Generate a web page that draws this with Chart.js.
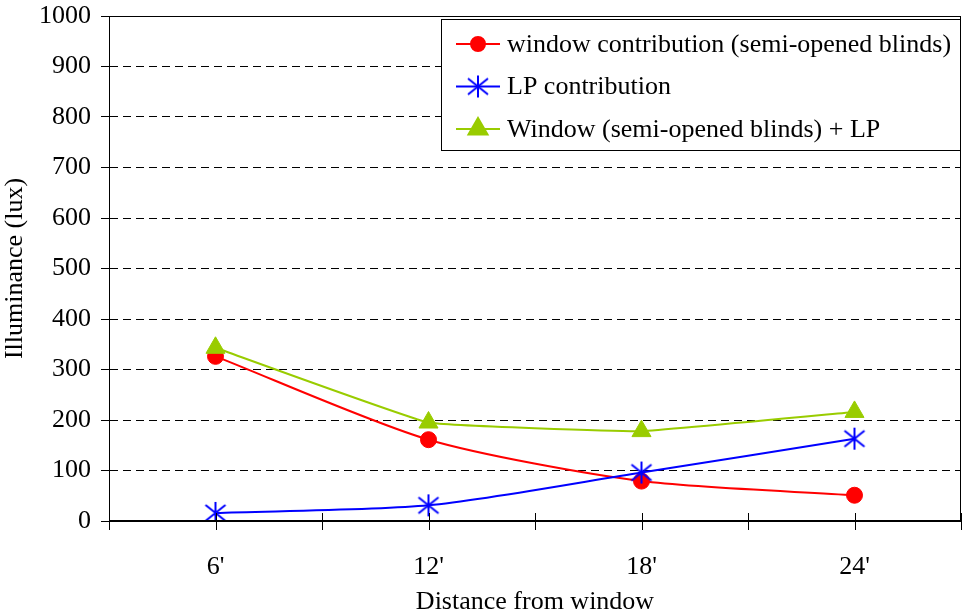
<!DOCTYPE html>
<html>
<head>
<meta charset="utf-8">
<script src="https://cdn.jsdelivr.net/npm/chart.js@4/dist/chart.umd.min.js"></script>
<style>
  html, body { margin: 0; padding: 0; background: #fff; }
  #wrap { width: 964px; height: 613px; }
</style>
</head>
<body>
<div id="wrap"><canvas id="myChart" width="964" height="613"></canvas></div>
<script>
'use strict';

// data
var categories = ["6'", "12'", "18'", "24'"];
var windowLux = [326, 161, 79, 51];
var lpLux = [16, 31, 96, 163];
var totalLux = [343, 195, 178, 216];
var seriesNames = [
  'window contribution (semi-opened blinds)',
  'LP contribution',
  'Window (semi-opened blinds) + LP'
];
var yTicks = { min: 0, max: 1000, step: 100 };

var FONT = "'Liberation Serif', 'Times New Roman', serif";
Chart.defaults.font.family = FONT;
Chart.defaults.font.size = 26;
Chart.defaults.color = '#000';

// asterisk marker: vertical bar + X
function makeStar(color) {
  var c = document.createElement('canvas');
  c.width = 24; c.height = 24;
  var g = c.getContext('2d');
  g.strokeStyle = color;
  g.lineWidth = 2;
  g.beginPath();
  g.moveTo(12, 1); g.lineTo(12, 23);
  g.moveTo(2, 4); g.lineTo(22, 20);
  g.moveTo(22, 4); g.lineTo(2, 20);
  g.stroke();
  return c;
}
var star = makeStar('#0000FF');

var styles = [
  { color: '#FF0000', point: 'circle', r: 8, lr: 7, t: 0.25 },
  { color: '#0000FF', point: star, r: 11, lr: 11, t: 0.25 },
  { color: '#99CC00', point: 'triangle', r: 11, lr: 11, t: 0.08 }
];

var frameAndLegend = {
  id: 'frameAndLegend',
  afterDatasetsDraw: function(chart) {
    var ctx = chart.ctx;
    var a = chart.chartArea;
    var x = chart.scales.x;
    ctx.save();
    // plot frame
    ctx.strokeStyle = '#000';
    ctx.lineWidth = 1;
    ctx.strokeRect(Math.round(a.left) + 0.5, Math.round(a.top) + 0.5, Math.round(a.right - a.left) - 1, Math.round(a.bottom - a.top));
    ctx.lineWidth = 2;
    ctx.beginPath();
    ctx.moveTo(a.left, a.bottom); ctx.lineTo(a.right, a.bottom);
    ctx.stroke();
    // x tick marks at centres and boundaries
    ctx.lineWidth = 1;
    ctx.beginPath();
    for (var i = -0.5; i <= categories.length - 0.5; i += 0.5) {
      var px = Math.round(x.getPixelForValue(i)) + 0.5;
      ctx.moveTo(px, a.bottom - 8);
      ctx.lineTo(px, a.bottom + 9);
    }
    ctx.stroke();

    // legend box
    var lx = a.right - 520, ly = a.top + 3, lw = 519, lh = 131;
    ctx.fillStyle = '#fff';
    ctx.fillRect(lx, ly, lw, lh);
    ctx.strokeStyle = '#000';
    ctx.lineWidth = 1;
    ctx.strokeRect(Math.round(lx) + 0.5, Math.round(ly) + 0.5, lw, lh);
    ctx.font = '26px ' + FONT;
    ctx.textBaseline = 'middle';
    ctx.textAlign = 'left';
    for (var k = 0; k < seriesNames.length; k++) {
      var s = styles[k];
      var cy = ly + 25 + k * 42.5;
      ctx.strokeStyle = s.color;
      ctx.lineWidth = 2;
      ctx.beginPath();
      ctx.moveTo(lx + 15, cy); ctx.lineTo(lx + 59, cy);
      ctx.stroke();
      ctx.fillStyle = s.color;
      Chart.helpers.drawPoint(ctx, { pointStyle: s.point, radius: s.lr, rotation: 0, borderWidth: 1 }, lx + 37, cy);
      ctx.fillStyle = '#000';
      ctx.fillText(seriesNames[k], lx + 66, cy + 1);
    }
    ctx.restore();
  }
};

function ds(label, data, s, order) {
  return {
    label: label,
    data: data,
    borderColor: s.color,
    backgroundColor: s.color,
    borderWidth: 2,
    pointStyle: s.point,
    pointRadius: s.r,
    pointHoverRadius: s.r,
    pointBorderWidth: 1,
    tension: s.t,
    order: order
  };
}

var ctx = document.getElementById('myChart').getContext('2d');

var chart = new Chart(ctx, {
  type: 'line',
  data: {
    labels: categories,
    datasets: [
      ds(seriesNames[0], windowLux, styles[0], 3),
      ds(seriesNames[1], lpLux, styles[1], 2),
      ds(seriesNames[2], totalLux, styles[2], 1)
    ]
  },
  options: {
    responsive: false,
    animation: false,
    layout: { autoPadding: false, padding: { top: 16, right: 3, left: 0, bottom: 0 } },
    plugins: { legend: { display: false }, tooltip: { enabled: false } },
    scales: {
      x: {
        offset: true,
        grid: { display: false, drawTicks: false },
        border: { display: false },
        ticks: { padding: 31, maxRotation: 0 },
        title: { display: true, text: 'Distance from window', padding: { top: 0, bottom: -5 } },
        afterFit: function(s) { s.height = 92; s.paddingLeft = 0; s.paddingRight = 0; }
      },
      y: {
        min: yTicks.min,
        max: yTicks.max,
        grid: { color: '#000', lineWidth: 1, tickLength: 8, tickColor: '#000' },
        border: { display: true, color: '#000', width: 1, dash: [8, 5] },
        ticks: {
          stepSize: yTicks.step,
          padding: 10,
          callback: function(v) { return String(v); }
        },
        title: { display: true, text: 'Illuminance (lux)', padding: { top: 0, bottom: 0 } },
        afterFit: function(s) { s.width = 109; s.paddingTop = 0; s.paddingBottom = 0; }
      }
    }
  },
  plugins: [frameAndLegend]
});
</script>
</body>
</html>
